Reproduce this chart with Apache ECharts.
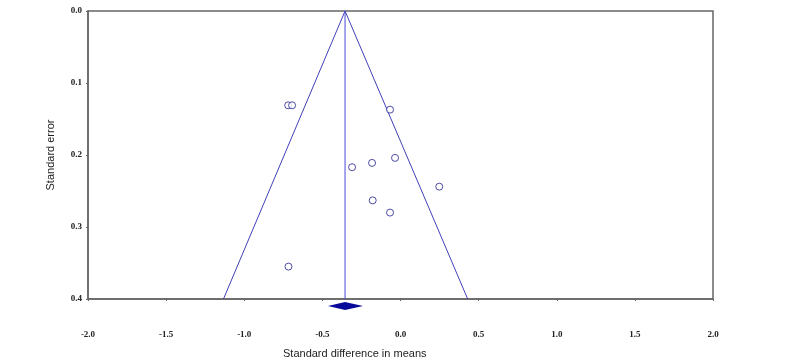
<!DOCTYPE html>
<html>
<head>
<meta charset="utf-8">
<script src="https://cdn.jsdelivr.net/npm/echarts@6/dist/echarts.min.js"></script>
<style>
  html, body { margin: 0; padding: 0; background: #fff; }
  #chart { width: 800px; height: 362px; }
</style>
</head>
<body>
<div id="chart"></div>
<script>
// study effects (std diff in means) and standard errors
const studyEffect = [-0.719, -0.694, -0.067, -0.310, -0.182, -0.035, 0.248, -0.178, -0.067, -0.717]
const studySE = [0.131, 0.131, 0.137, 0.217, 0.211, 0.204, 0.244, 0.263, 0.280, 0.355]

// pooled estimate and its confidence interval
const pooledMean = -0.355
const pooledCI = [-0.464, -0.240]

// funnel limits (95%)
const funnelX = [-1.133, -0.355, 0.430]
const funnelY = [0.4, 0.0, 0.4]

const xTicks = ['-2.0', '-1.5', '-1.0', '-0.5', '0.0', '0.5', '1.0', '1.5', '2.0']
const yTicks = ['0.0', '0.1', '0.2', '0.3', '0.4']

const chart = echarts.init(document.getElementById('chart'))

const labelFont = {
  fontFamily: 'Liberation Serif',
  fontWeight: 'bold',
  fontSize: 9,
  color: '#222'
}

const option = {
  animation: false,
  grid: {
    left: 88, right: 87, top: 11, bottom: 63,
    show: true,
    borderColor: '#666',
    borderWidth: 1.5
  },
  xAxis: {
    type: 'value',
    position: 'bottom',
    min: -2, max: 2, interval: 0.5,
    axisLine: { show: true, onZero: false, lineStyle: { color: '#666', width: 1.5 } },
    axisTick: { show: true, length: 2, lineStyle: { color: '#666' } },
    splitLine: { show: false },
    axisLabel: {
      ...labelFont,
      margin: 31,
      formatter: v => xTicks[Math.round((v + 2) / 0.5)]
    }
  },
  yAxis: {
    type: 'value',
    position: 'left',
    inverse: true,
    min: 0, max: 0.4, interval: 0.1,
    name: 'Standard error',
    nameLocation: 'middle',
    nameGap: 32,
    nameTextStyle: { fontFamily: 'Liberation Sans', fontSize: 11, color: '#222' },
    axisLine: { show: true, onZero: false, lineStyle: { color: '#666', width: 1.5 } },
    axisTick: { show: true, length: 2, lineStyle: { color: '#666' } },
    splitLine: { show: false },
    axisLabel: {
      ...labelFont,
      margin: 6,
      formatter: v => yTicks[Math.round(v / 0.1)]
    }
  },
  graphic: [{
    type: 'text',
    left: 283,
    top: 348,
    style: {
      text: 'Standard difference in means',
      fontFamily: 'Liberation Sans',
      fontSize: 11,
      fill: '#222'
    }
  }],
  series: [
    {
      // funnel limits
      type: 'line',
      data: funnelX.map((x, i) => [x, funnelY[i]]),
      symbol: 'none',
      lineStyle: { color: '#4040b8', width: 1 },
      z: 2
    },
    {
      // pooled mean line
      type: 'line',
      data: [[pooledMean, 0], [pooledMean, 0.4]],
      symbol: 'none',
      lineStyle: { color: '#4a4ad8', width: 1 },
      z: 2
    },
    {
      type: 'scatter',
      data: studyEffect.map((x, i) => [x, studySE[i]]),
      symbol: 'circle',
      symbolSize: 7,
      itemStyle: { color: '#fff', borderColor: '#22228c', borderWidth: 1 },
      z: 3
    },
    {
      // pooled diamond below the axis
      type: 'custom',
      clip: false,
      data: [[pooledCI[0], pooledMean, pooledCI[1]]],
      renderItem: (params, api) => {
        const lo = api.coord([api.value(0), 0.4])
        const mid = api.coord([api.value(1), 0.4])
        const hi = api.coord([api.value(2), 0.4])
        const cy = lo[1] + 7
        return {
          type: 'polygon',
          shape: { points: [[lo[0], cy], [mid[0], cy - 4], [hi[0], cy], [mid[0], cy + 4]] },
          style: { fill: '#0a0a9a' }
        }
      },
      z: 4
    }
  ]
}

chart.setOption(option)
</script>
</body>
</html>
